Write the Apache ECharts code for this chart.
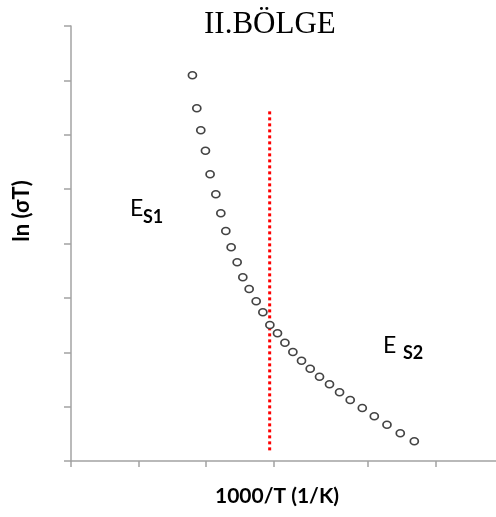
<!DOCTYPE html>
<html>
<head>
<meta charset="utf-8">
<script src="https://cdn.jsdelivr.net/npm/echarts@6/dist/echarts.min.js"></script>
<style>
  html, body { margin: 0; padding: 0; background: #fff; }
  #chart { width: 496px; height: 517px; }
</style>
</head>
<body>
<div id="chart"></div>
<script>
// 1000/T values (arbitrary units, axis has no labels)
var invT = [1.800, 1.865, 1.924, 1.993, 2.062, 2.147, 2.221, 2.295, 2.374, 2.463,
  2.547, 2.641, 2.745, 2.844, 2.948, 3.061, 3.171, 3.289, 3.417, 3.546,
  3.684, 3.832, 3.981, 4.139, 4.318, 4.496, 4.684, 4.881, 5.089]
// ln(sigma T)
var lnSigmaT = [7.093, 6.486, 6.082, 5.707, 5.273, 4.905, 4.555, 4.230, 3.930, 3.654,
  3.378, 3.163, 2.937, 2.735, 2.501, 2.348, 2.176, 2.005, 1.845, 1.697,
  1.550, 1.411, 1.263, 1.122, 0.975, 0.822, 0.668, 0.509, 0.362]
// red dotted boundary between the two regions
var boundaryX = [2.945, 2.945]
var boundaryY = [6.43, 0.18]
// x tick positions (unevenly spaced in the original)
var xTicks = [0, 1, 2, 3, 4.4, 5.4]

var chart = echarts.init(document.getElementById('chart'))

var points = invT.map(function (x, i) { return [x, lnSigmaT[i]] })
var boundary = boundaryX.map(function (x, i) { return [x, boundaryY[i]] })

var axisGray = '#a3a3a3'
var labelFont = 'Lato, "Open Sans", sans-serif'

var option = {
  animation: false,
  title: {
    text: 'II.BÖLGE',
    left: 199,
    top: 4,
    textStyle: {
      fontFamily: '"Liberation Serif", "Times New Roman", serif',
      fontSize: 31,
      fontWeight: 'normal',
      color: '#000'
    }
  },
  grid: { left: 71, right: 0, top: 26, bottom: 56 },
  xAxis: {
    type: 'value',
    min: 0,
    max: 6.3,
    name: '1000/T (1/K)',
    nameLocation: 'middle',
    nameGap: 25,
    nameTextStyle: {
      fontFamily: labelFont,
      fontWeight: 'bold',
      fontSize: 21,
      color: '#000',
      padding: [0, 13, 0, 0]
    },
    axisLine: { lineStyle: { color: axisGray, width: 1.5 } },
    axisTick: { show: true, length: 6, customValues: xTicks, lineStyle: { color: axisGray, width: 1.5 } },
    axisLabel: { show: false },
    splitLine: { show: false }
  },
  yAxis: {
    type: 'value',
    min: 0,
    max: 8,
    interval: 1,
    name: 'ln (σT)',
    nameLocation: 'middle',
    nameRotate: 90,
    nameGap: 38,
    nameTextStyle: {
      fontFamily: labelFont,
      fontWeight: 'bold',
      fontSize: 22,
      color: '#000',
      padding: [0, 0, 0, 65]
    },
    axisLine: { show: true, lineStyle: { color: axisGray, width: 1.5 } },
    axisTick: { show: true, length: 7, lineStyle: { color: axisGray, width: 1.5 } },
    axisLabel: { show: false },
    splitLine: { show: false }
  },
  graphic: [
    { type: 'text', left: 130, top: 197, style: { text: 'E', font: '23px ' + labelFont, fill: '#000' } },
    { type: 'text', left: 143, top: 208, style: { text: 'S1', font: 'bold 18px ' + labelFont, fill: '#000' } },
    { type: 'text', left: 383, top: 334, style: { text: 'E', font: '23px ' + labelFont, fill: '#000' } },
    { type: 'text', left: 403, top: 344, style: { text: 'S2', font: 'bold 18px ' + labelFont, fill: '#000' } }
  ],
  series: [
    {
      type: 'line',
      data: boundary,
      symbol: 'none',
      lineStyle: { color: '#ff0000', width: 3, type: [3, 3] },
      z: 1
    },
    {
      type: 'scatter',
      data: points,
      symbol: 'circle',
      symbolSize: [8, 7],
      itemStyle: { color: '#fff', borderColor: '#444', borderWidth: 1.6, opacity: 1 },
      z: 2
    }
  ]
}

chart.setOption(option)
</script>
</body>
</html>
